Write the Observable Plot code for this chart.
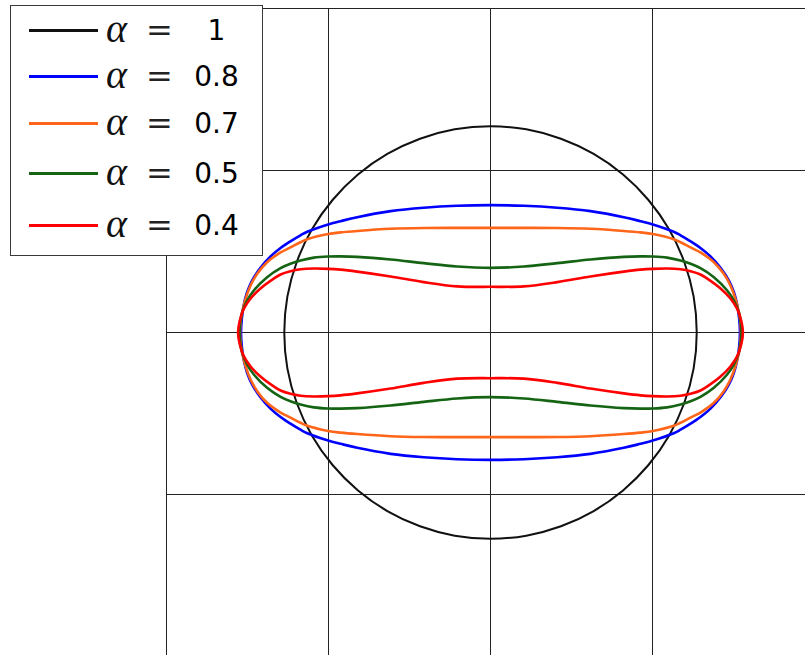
<!DOCTYPE html>
<html>
<head>
<meta charset="utf-8">
<script src="https://cdn.jsdelivr.net/npm/d3@7"></script>
<script src="https://cdn.jsdelivr.net/npm/@observablehq/plot@0.6"></script>
<style>
  html, body { margin: 0; padding: 0; background: white; overflow: hidden; }
  #wrap { position: relative; width: 805px; height: 655px; }
  #legend {
    position: absolute; left: 10px; top: 5px; width: 253px; height: 251px;
    box-sizing: border-box; border: 1.5px solid #3a3a3a; background: white;
  }
  .row { position: absolute; left: 0; height: 0; }
  .swatch { position: absolute; left: 18px; width: 69px; height: 2.5px; top: -1.25px; }
  .alpha { position: absolute; left: 95px; top: -22px; font-family: "Liberation Serif"; font-style: italic; font-size: 40px; line-height: 40px; color: #111; }
  .eq { position: absolute; left: 135px; top: -21px; font-family: "DejaVu Serif"; font-size: 32px; line-height: 40px; color: #222; }
  .num { position: absolute; left: 175.5px; width: 60px; text-align: center; top: -19.5px; font-family: "DejaVu Sans"; font-size: 28px; line-height: 40px; color: #000; }
</style>
</head>
<body>
<div id="wrap"></div>
<script>
// ---- Data (upper-right quadrant of each closed, doubly-symmetric curve; [u, v]) ----
const alphaLabels = ["1", "0.8", "0.7", "0.5", "0.4"];
const seriesColors = ["#111111", "#0000ff", "#ff6619", "#146414", "#ff0000"];

const quarterA1 = [
  [0, 1.273], [0.221, 1.254], [0.435, 1.196], [0.637, 1.102], [0.818, 0.975],
  [0.975, 0.818], [1.102, 0.637], [1.196, 0.435], [1.254, 0.221], [1.273, 0]
];
const quarterA08 = [
  [0, 0.786], [0.206, 0.782], [0.412, 0.770], [0.617, 0.749], [0.823, 0.712],
  [0.926, 0.687], [1.002, 0.667], [1.131, 0.622], [1.173, 0.600], [1.235, 0.563],
  [1.296, 0.522], [1.358, 0.470], [1.420, 0.400], [1.471, 0.322], [1.502, 0.250],
  [1.523, 0.170], [1.535, 0.085], [1.540, 0]
];
const quarterA07 = [
  [0, 0.646], [0.206, 0.646], [0.412, 0.645], [0.617, 0.640], [0.823, 0.627],
  [0.926, 0.618], [1.002, 0.608], [1.131, 0.576], [1.173, 0.557], [1.235, 0.525],
  [1.296, 0.494], [1.379, 0.434], [1.440, 0.362], [1.481, 0.290], [1.512, 0.208],
  [1.533, 0.125], [1.543, 0.060], [1.546, 0]
];
const quarterA05 = [
  [0, 0.399], [0.206, 0.407], [0.412, 0.428], [0.617, 0.451], [0.823, 0.467],
  [0.926, 0.470], [1.002, 0.469], [1.090, 0.462], [1.173, 0.444], [1.235, 0.424],
  [1.296, 0.397], [1.379, 0.341], [1.461, 0.259], [1.502, 0.198], [1.533, 0.125],
  [1.545, 0.060], [1.549, 0]
];
const quarterA04 = [
  [0, 0.282], [0.206, 0.285], [0.412, 0.311], [0.617, 0.346], [0.823, 0.376],
  [0.926, 0.388], [1.002, 0.393], [1.090, 0.395], [1.173, 0.390], [1.235, 0.378],
  [1.296, 0.358], [1.338, 0.333], [1.420, 0.272], [1.481, 0.210], [1.523, 0.146],
  [1.549, 0.068], [1.558, 0]
];
const gridTicks = [-2, -1, 0, 1, 2];

// ---- Build closed loops by mirroring the quadrant about both axes ----
function loop(q) {
  const n = q.length;
  const pts = [];
  q.forEach(([u, v]) => pts.push({u, v}));                                   // top -> right
  q.slice(0, n - 1).reverse().forEach(([u, v]) => pts.push({u, v: -v}));      // right -> bottom
  q.slice(1).forEach(([u, v]) => pts.push({u: -u, v: -v}));                   // bottom -> left
  q.slice(1, n - 1).reverse().forEach(([u, v]) => pts.push({u: -u, v}));      // left -> top
  return pts;
}
const quarters = [quarterA1, quarterA08, quarterA07, quarterA05, quarterA04];

const marks = [
  Plot.ruleX(gridTicks, {stroke: "#222", strokeWidth: 1}),
  Plot.ruleY(gridTicks, {stroke: "#222", strokeWidth: 1}),
  ...quarters.map((q, i) => Plot.line(loop(q), {
    x: "u", y: "v", curve: "catmull-rom-closed",
    stroke: seriesColors[i], strokeWidth: i === 0 ? 2 : 2.6
  }))
];

const chart = Plot.plot({
  width: 805,
  height: 655,
  marginTop: 8, marginBottom: 0, marginLeft: 166, marginRight: 0,
  x: {domain: [-2, 2], range: [166, 814], axis: null},
  y: {domain: [-2, 2], range: [656, 8], axis: null},
  marks
});
const wrap = document.getElementById("wrap");
wrap.appendChild(chart);

// ---- Legend (overlay) ----
const rowY = [31, 77, 124, 174, 226];
const legend = document.createElement("div");
legend.id = "legend";
alphaLabels.forEach((lab, i) => {
  const row = document.createElement("div");
  row.className = "row";
  row.style.top = (rowY[i] - 6.5) + "px";
  row.innerHTML =
    `<div class="swatch" style="background:${seriesColors[i]}"></div>` +
    `<span class="alpha">α</span><span class="eq">=</span>` +
    `<span class="num">${lab}</span>`;
  legend.appendChild(row);
});
wrap.appendChild(legend);
</script>
</body>
</html>
